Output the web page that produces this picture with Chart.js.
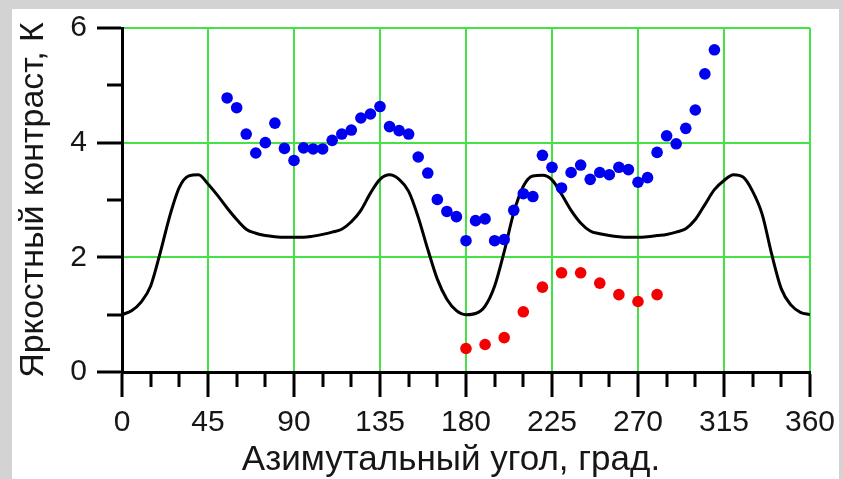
<!DOCTYPE html>
<html><head><meta charset="utf-8">
<script src="https://cdn.jsdelivr.net/npm/chart.js@4/dist/chart.umd.min.js"></script>
<style>
html,body{margin:0;padding:0;width:843px;height:479px;overflow:hidden;background:#d3d3d3;}
#panel{position:absolute;left:12px;top:9px;width:827px;height:470px;background:#fff;}
#wrap{position:absolute;left:0;top:0;width:843px;height:479px;}
</style></head><body>
<div id="panel"></div>
<div id="wrap"><canvas id="c" width="843" height="479"></canvas></div>
<script>
const curveAngles = [0,5,10,15,20,25,30,35,40,45,50,55,60,65,70,75,80,85,90,95,100,105,110,115,120,125,130,135,140,145,150,155,160,165,170,175,180,185,190,195,200,205,210,215,220,225,230,235,240,245,250,255,260,265,270,275,280,285,290,295,300,305,310,315,320,325,330,335,340,345,350,355,360];
const curveValues = [1.00,1.07,1.22,1.50,2.08,2.72,3.22,3.42,3.44,3.28,3.08,2.86,2.66,2.49,2.42,2.38,2.36,2.35,2.35,2.35,2.37,2.40,2.44,2.49,2.62,2.82,3.12,3.36,3.44,3.36,3.15,2.70,2.14,1.62,1.27,1.07,1.00,1.02,1.15,1.50,2.10,2.78,3.24,3.42,3.43,3.35,3.10,2.82,2.60,2.46,2.41,2.38,2.36,2.35,2.35,2.36,2.38,2.40,2.44,2.50,2.66,2.92,3.18,3.34,3.44,3.40,3.15,2.75,2.05,1.45,1.17,1.04,1.00];
const blueAngles = [55,60,65,70,75,80,85,90,95,100,105,110,115,120,125,130,135,140,145,150,155,160,165,170,175,180,185,190,195,200,205,210,215,220,225,230,235,240,245,250,255,260,265,270,275,280,285,290,295,300,305,310];
const blueValues = [4.78,4.61,4.15,3.82,4.00,4.34,3.90,3.69,3.91,3.89,3.89,4.04,4.15,4.22,4.43,4.50,4.63,4.28,4.21,4.15,3.75,3.47,3.01,2.80,2.71,2.29,2.64,2.67,2.29,2.31,2.82,3.11,3.06,3.78,3.57,3.21,3.48,3.61,3.36,3.48,3.44,3.57,3.53,3.31,3.39,3.83,4.12,3.98,4.25,4.57,5.20,5.62];
const redAngles = [180,190,200,210,220,230,240,250,260,270,280];
const redValues = [0.41,0.48,0.60,1.05,1.48,1.73,1.73,1.55,1.35,1.23,1.35];
const xTickLabels = [0,45,90,135,180,225,270,315,360];
const yTickLabels = [0,2,4,6];
const xMinorTicks = [15,30,60,75,105,120,150,165,195,210,240,255,285,300,330,345];
const yMinorTicks = [1,3,5];
const xTitle = 'Азимутальный угол, град.';
const yTitle = 'Яркостный контраст, К';

const pts = (xs, ys) => xs.map((x, i) => ({x: x, y: ys[i]}));
const FONT = "'Liberation Sans', Arial, sans-serif";
const GREEN = '#44e244';
const TXT = '#161616';

const extrasPlugin = {
  id: 'extras',
  afterDraw(chart) {
    const ctx = chart.ctx, xs = chart.scales.x, ys = chart.scales.y, a = chart.chartArea;
    ctx.save();
    ctx.strokeStyle = '#000000';
    ctx.lineWidth = 3;
    ctx.beginPath();
    xMinorTicks.forEach(v => { const p = Math.round(xs.getPixelForValue(v)); ctx.moveTo(p, a.bottom); ctx.lineTo(p, a.bottom + 15); });
    yMinorTicks.forEach(v => { const p = Math.round(ys.getPixelForValue(v)); ctx.moveTo(a.left, p); ctx.lineTo(a.left - 15, p); });
    ctx.stroke();
    ctx.restore();
    ctx.save();
    ctx.fillStyle = TXT;
    ctx.font = "35px " + FONT;
    ctx.textAlign = 'center';
    ctx.textBaseline = 'middle';
    ctx.fillText(xTitle, 451, 460);
    ctx.restore();
  }
};

new Chart(document.getElementById('c'), {
  type: 'scatter',
  data: {
    datasets: [
      {label: 'blue', data: pts(blueAngles, blueValues), backgroundColor: '#0000f0', borderWidth: 0, pointRadius: 5.8, pointHoverRadius: 5.8},
      {label: 'red', data: pts(redAngles, redValues), backgroundColor: '#f50000', borderWidth: 0, pointRadius: 5.8, pointHoverRadius: 5.8},
      {label: 'curve', type: 'line', data: pts(curveAngles, curveValues), borderColor: '#000', borderWidth: 3, pointRadius: 0, showLine: true, fill: false, cubicInterpolationMode: 'monotone'}
    ]
  },
  options: {
    responsive: false,
    animation: false,
    events: [],
    layout: {padding: {left: 0, top: 27, right: 30, bottom: 0}},
    plugins: {legend: {display: false}, tooltip: {enabled: false}},
    scales: {
      x: {
        type: 'linear', position: 'bottom', min: 0, max: 360,
        afterBuildTicks: s => { s.ticks = xTickLabels.map(v => ({value: v})); },
        afterFit: s => { s.height = 479 - 372; },
        grid: {display: true, drawOnChartArea: true, color: GREEN, lineWidth: 2, tickColor: '#000000', tickWidth: 3, tickLength: 25},
        border: {color: '#000', width: 3},
        ticks: {font: {size: 30, family: FONT}, color: TXT, padding: 8, maxRotation: 0, autoSkip: false},
        title: {display: false}
      },
      y: {
        type: 'linear', position: 'left', min: 0, max: 6,
        afterBuildTicks: s => { s.ticks = yTickLabels.map(v => ({value: v})); },
        afterFit: s => { s.width = 122; },
        grid: {display: true, drawOnChartArea: true, color: GREEN, lineWidth: 2, tickColor: '#000000', tickWidth: 3, tickLength: 25},
        border: {color: '#000', width: 3},
        ticks: {font: {size: 30, family: FONT}, color: TXT, padding: 10},
        title: {display: true, text: yTitle, font: {size: 34, family: FONT}, color: TXT, padding: {top: 13, bottom: 0}}
      }
    }
  },
  plugins: [extrasPlugin]
});
</script>
</body></html>
